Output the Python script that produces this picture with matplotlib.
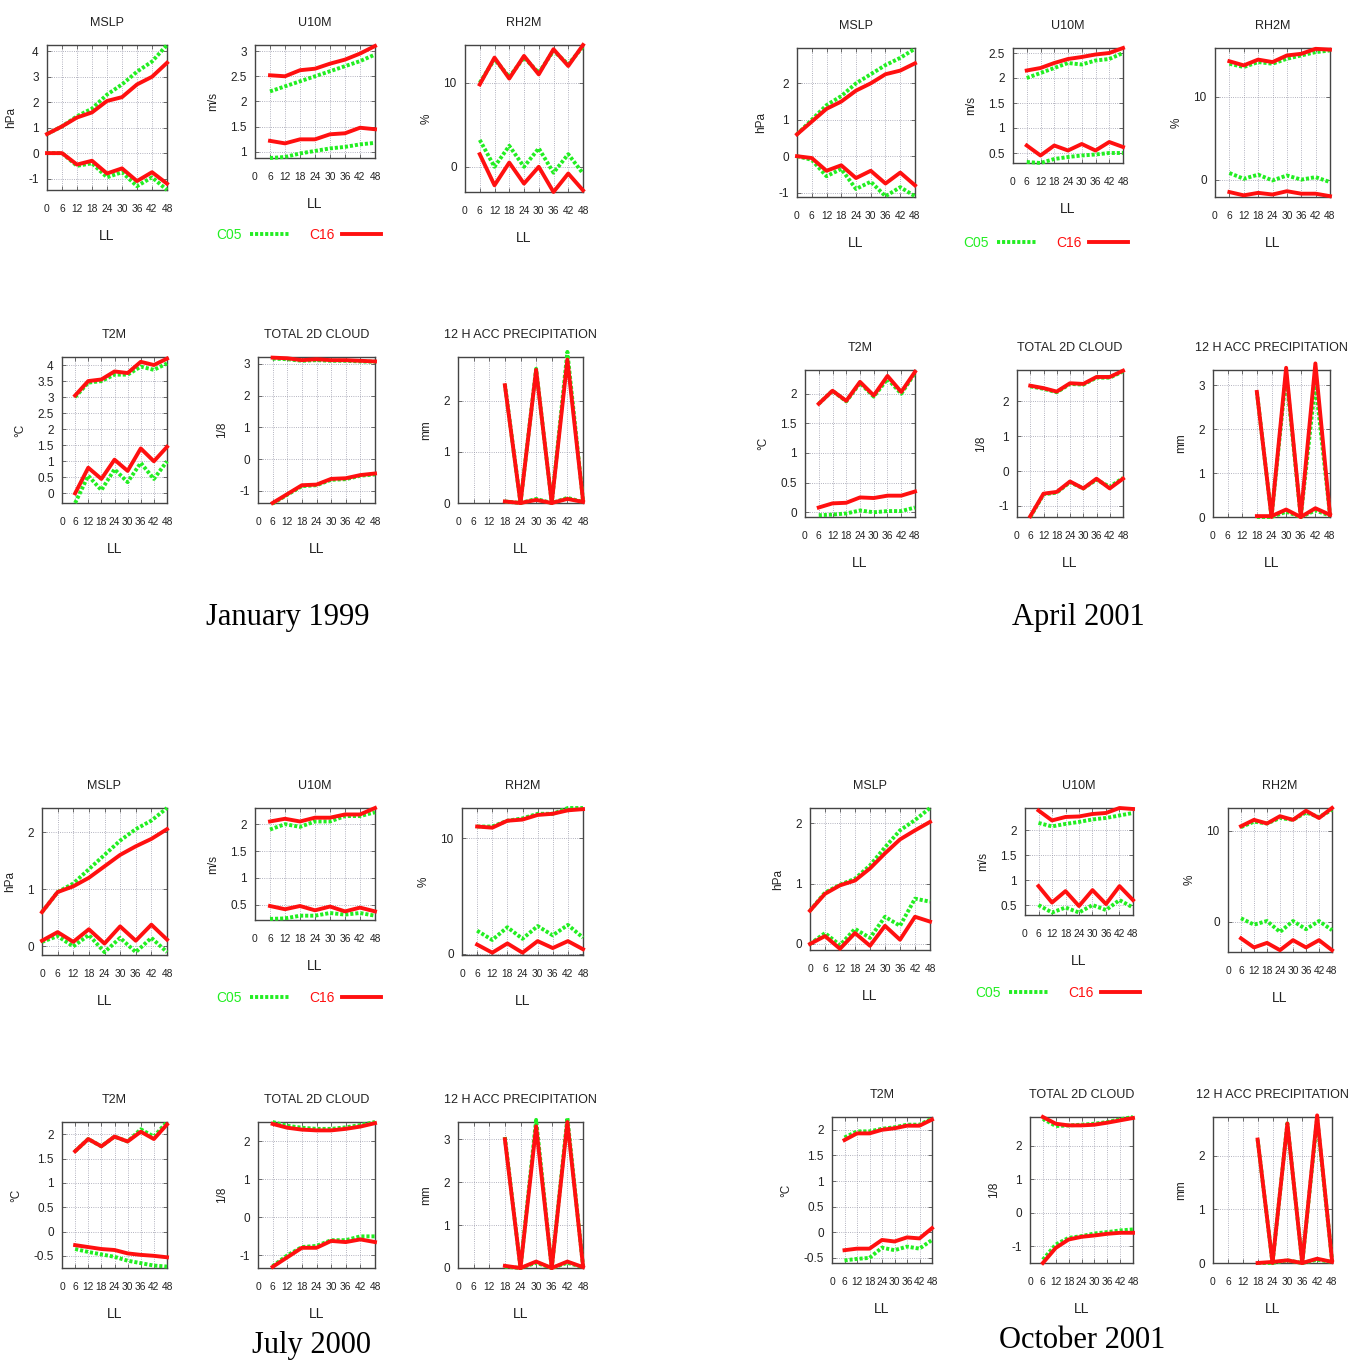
import matplotlib
matplotlib.use('Agg')
import matplotlib.pyplot as plt
from matplotlib.lines import Line2D

W, H = 1357, 1367

# forecast hours
hours_mslp = [0, 6, 12, 18, 24, 30, 36, 42, 48]
hours = [6, 12, 18, 24, 30, 36, 42, 48]
hours_precip = [18, 24, 30, 36, 42, 48]
xticks = [0, 6, 12, 18, 24, 30, 36, 42, 48]

titles = ['MSLP', 'U10M', 'RH2M', 'T2M', 'TOTAL 2D CLOUD', '12 H ACC PRECIPITATION']
units = ['hPa', 'm/s', '%', '\u00b0C', '1/8', 'mm']
months = ['January 1999', 'April 2001', 'July 2000', 'October 2001']

# every panel: (C05 upper, C16 upper, C05 lower, C16 lower)
# ---- January 1999
jan_mslp = ([0.75, 1.05, 1.45, 1.75, 2.3, 2.7, 3.2, 3.6, 4.25],
            [0.75, 1.05, 1.4, 1.6, 2.05, 2.2, 2.7, 3.0, 3.55],
            [0.0, 0.0, -0.5, -0.4, -0.95, -0.75, -1.3, -0.95, -1.45],
            [0.0, 0.0, -0.45, -0.3, -0.8, -0.6, -1.1, -0.75, -1.2])
jan_u10m = ([2.2, 2.3, 2.4, 2.5, 2.6, 2.7, 2.8, 2.93],
            [2.52, 2.5, 2.62, 2.65, 2.75, 2.83, 2.95, 3.1],
            [0.88, 0.9, 0.97, 1.02, 1.07, 1.1, 1.15, 1.18],
            [1.22, 1.17, 1.25, 1.25, 1.35, 1.37, 1.48, 1.45])
jan_rh2m = ([10.0, 12.8, 10.7, 13.0, 11.2, 13.8, 12.2, 14.3],
            [9.8, 13.0, 10.5, 13.2, 11.0, 14.0, 12.0, 14.5],
            [3.2, 0.0, 2.5, 0.0, 2.2, -0.7, 1.5, -0.8],
            [1.5, -2.2, 0.5, -2.0, 0.0, -3.0, -0.8, -2.8])
jan_t2m = ([3.0, 3.45, 3.5, 3.7, 3.7, 3.95, 3.85, 4.05],
           [3.05, 3.5, 3.55, 3.8, 3.75, 4.1, 4.0, 4.2],
           [-0.3, 0.55, 0.1, 0.75, 0.35, 0.95, 0.45, 1.0],
           [0.0, 0.8, 0.45, 1.05, 0.7, 1.4, 1.0, 1.45])
jan_cloud = ([3.17, 3.15, 3.1, 3.12, 3.1, 3.1, 3.08, 3.07],
             [3.2, 3.18, 3.12, 3.15, 3.12, 3.12, 3.1, 3.08],
             [-1.4, -1.12, -0.85, -0.82, -0.65, -0.63, -0.52, -0.48],
             [-1.38, -1.1, -0.82, -0.8, -0.62, -0.6, -0.5, -0.45])
jan_precip = ([2.32, 0.0, 2.62, 0.0, 2.95, 0.05],
              [2.3, 0.0, 2.6, 0.0, 2.8, 0.05],
              [0.03, 0.0, 0.08, 0.0, 0.1, 0.02],
              [0.03, 0.0, 0.06, 0.0, 0.08, 0.02])

# ---- April 2001
apr_mslp = ([0.6, 1.0, 1.4, 1.65, 2.0, 2.25, 2.5, 2.7, 2.95],
            [0.6, 0.95, 1.3, 1.5, 1.8, 2.0, 2.25, 2.35, 2.55],
            [0.0, -0.1, -0.55, -0.35, -0.9, -0.7, -1.1, -0.85, -1.1],
            [0.0, -0.05, -0.4, -0.25, -0.6, -0.4, -0.75, -0.45, -0.8])
apr_u10m = ([2.0, 2.1, 2.2, 2.3, 2.27, 2.35, 2.38, 2.5],
            [2.15, 2.2, 2.3, 2.38, 2.42, 2.47, 2.5, 2.6],
            [0.32, 0.3, 0.38, 0.42, 0.45, 0.47, 0.5, 0.5],
            [0.65, 0.45, 0.65, 0.55, 0.68, 0.55, 0.72, 0.62])
apr_rh2m = ([14.0, 13.6, 14.2, 14.0, 14.6, 15.0, 15.4, 15.6],
            [14.3, 13.8, 14.5, 14.2, 15.0, 15.2, 15.8, 15.7],
            [0.8, 0.1, 0.6, -0.1, 0.5, 0.0, 0.3, -0.3],
            [-1.5, -1.9, -1.6, -1.8, -1.4, -1.7, -1.7, -2.0])
apr_t2m = ([1.83, 2.05, 1.87, 2.18, 1.95, 2.25, 2.0, 2.35],
           [1.83, 2.05, 1.88, 2.2, 1.97, 2.3, 2.03, 2.37],
           [-0.05, -0.04, -0.02, 0.03, 0.0, 0.02, 0.02, 0.08],
           [0.08, 0.15, 0.16, 0.25, 0.24, 0.28, 0.28, 0.35])
apr_cloud = ([2.43, 2.36, 2.26, 2.5, 2.48, 2.68, 2.68, 2.86],
             [2.45, 2.38, 2.28, 2.52, 2.5, 2.7, 2.7, 2.88],
             [-1.32, -0.67, -0.62, -0.32, -0.5, -0.25, -0.45, -0.2],
             [-1.3, -0.65, -0.6, -0.3, -0.5, -0.22, -0.5, -0.22])
apr_precip = ([2.85, 0.0, 3.25, 0.0, 3.05, 0.05],
              [2.85, 0.0, 3.4, 0.0, 3.5, 0.05],
              [0.0, 0.0, 0.12, 0.0, 0.15, 0.03],
              [0.02, 0.02, 0.17, 0.0, 0.2, 0.05])

# ---- July 2000
jul_mslp = ([0.6, 0.95, 1.1, 1.35, 1.6, 1.85, 2.05, 2.2, 2.42],
            [0.6, 0.95, 1.05, 1.2, 1.4, 1.6, 1.75, 1.88, 2.05],
            [0.08, 0.18, 0.0, 0.2, -0.1, 0.15, -0.1, 0.15, -0.1],
            [0.1, 0.25, 0.08, 0.3, 0.05, 0.35, 0.1, 0.38, 0.12])
jul_u10m = ([1.9, 2.0, 1.95, 2.05, 2.05, 2.15, 2.15, 2.22],
            [2.05, 2.1, 2.05, 2.12, 2.12, 2.18, 2.18, 2.3],
            [0.24, 0.25, 0.3, 0.3, 0.35, 0.32, 0.35, 0.3],
            [0.48, 0.42, 0.48, 0.4, 0.47, 0.38, 0.45, 0.38])
jul_rh2m = ([11.0, 11.0, 11.5, 11.7, 12.1, 12.1, 12.6, 12.6],
            [11.0, 10.9, 11.5, 11.6, 12.0, 12.1, 12.4, 12.5],
            [2.0, 1.2, 2.3, 1.3, 2.4, 1.6, 2.5, 1.4],
            [0.8, 0.1, 0.9, 0.1, 1.1, 0.5, 1.1, 0.4])
jul_t2m = ([1.65, 1.9, 1.75, 1.95, 1.85, 2.1, 1.95, 2.25],
           [1.65, 1.9, 1.75, 1.95, 1.85, 2.05, 1.9, 2.2],
           [-0.36, -0.42, -0.47, -0.52, -0.6, -0.65, -0.7, -0.72],
           [-0.28, -0.32, -0.36, -0.38, -0.45, -0.48, -0.5, -0.53])
jul_cloud = ([2.5, 2.4, 2.35, 2.32, 2.32, 2.36, 2.42, 2.5],
             [2.45, 2.35, 2.3, 2.28, 2.28, 2.32, 2.38, 2.47],
             [-1.28, -1.0, -0.78, -0.75, -0.6, -0.6, -0.5, -0.5],
             [-1.3, -1.05, -0.8, -0.8, -0.62, -0.65, -0.58, -0.65])
jul_precip = ([3.05, 0.0, 3.45, 0.0, 3.5, 0.05],
              [3.0, 0.0, 3.3, 0.0, 3.4, 0.05],
              [0.03, 0.0, 0.12, 0.0, 0.12, 0.02],
              [0.05, 0.0, 0.15, 0.0, 0.15, 0.02])

# ---- October 2001
oct_mslp = ([0.55, 0.85, 0.98, 1.08, 1.3, 1.6, 1.88, 2.05, 2.25],
            [0.55, 0.83, 0.97, 1.05, 1.25, 1.5, 1.73, 1.88, 2.02],
            [0.0, 0.18, -0.02, 0.25, 0.1, 0.45, 0.3, 0.75, 0.7],
            [0.0, 0.13, -0.08, 0.18, -0.03, 0.3, 0.07, 0.45, 0.37])
oct_u10m = ([2.15, 2.08, 2.13, 2.17, 2.22, 2.25, 2.3, 2.35],
            [2.4, 2.2, 2.27, 2.28, 2.33, 2.35, 2.45, 2.43],
            [0.5, 0.35, 0.45, 0.35, 0.5, 0.4, 0.6, 0.45],
            [0.88, 0.55, 0.78, 0.48, 0.8, 0.52, 0.88, 0.6])
oct_rh2m = ([10.4, 11.0, 10.8, 11.4, 11.2, 12.0, 11.5, 12.3],
            [10.5, 11.2, 10.8, 11.6, 11.2, 12.2, 11.4, 12.5],
            [0.4, -0.3, 0.1, -1.1, 0.1, -0.8, 0.1, -0.9],
            [-1.8, -2.8, -2.3, -3.1, -2.0, -2.8, -2.0, -3.1])
oct_t2m = ([1.85, 1.97, 1.97, 2.02, 2.05, 2.1, 2.1, 2.22],
           [1.8, 1.93, 1.93, 2.0, 2.03, 2.08, 2.08, 2.2],
           [-0.55, -0.52, -0.5, -0.3, -0.35, -0.28, -0.32, -0.15],
           [-0.35, -0.32, -0.32, -0.15, -0.18, -0.1, -0.12, 0.08])
oct_cloud = ([2.8, 2.58, 2.6, 2.62, 2.65, 2.7, 2.78, 2.85],
             [2.85, 2.65, 2.6, 2.6, 2.62, 2.68, 2.75, 2.82],
             [-1.4, -0.95, -0.75, -0.7, -0.62, -0.58, -0.53, -0.5],
             [-1.5, -1.05, -0.8, -0.72, -0.68, -0.63, -0.6, -0.6])
oct_precip = ([2.3, 0.0, 2.6, 0.0, 2.7, 0.05],
              [2.3, 0.0, 2.6, 0.0, 2.75, 0.05],
              [0.0, 0.0, 0.05, 0.0, 0.06, 0.02],
              [0.0, 0.02, 0.05, 0.0, 0.08, 0.02])

series = [
    [jan_mslp, jan_u10m, jan_rh2m, jan_t2m, jan_cloud, jan_precip],
    [apr_mslp, apr_u10m, apr_rh2m, apr_t2m, apr_cloud, apr_precip],
    [jul_mslp, jul_u10m, jul_rh2m, jul_t2m, jul_cloud, jul_precip],
    [oct_mslp, oct_u10m, oct_rh2m, oct_t2m, oct_cloud, oct_precip],
]

# y ticks of every panel
yticks = [
    [[-1, 0, 1, 2, 3, 4], [1, 1.5, 2, 2.5, 3], [0, 10],
     [0, 0.5, 1, 1.5, 2, 2.5, 3, 3.5, 4], [-1, 0, 1, 2, 3], [0, 1, 2]],
    [[-1, 0, 1, 2], [0.5, 1, 1.5, 2, 2.5], [0, 10],
     [0, 0.5, 1, 1.5, 2], [-1, 0, 1, 2], [0, 1, 2, 3]],
    [[0, 1, 2], [0.5, 1, 1.5, 2], [0, 10],
     [-0.5, 0, 0.5, 1, 1.5, 2], [-1, 0, 1, 2], [0, 1, 2, 3]],
    [[0, 1, 2], [0.5, 1, 1.5, 2], [0, 10],
     [-0.5, 0, 0.5, 1, 1.5, 2], [-1, 0, 1, 2], [0, 1, 2]],
]

# axis ranges (gnuplot autoscale look)
ylims = [
    [(-1.45, 4.25), (0.88, 3.12), (-3.0, 14.5), (-0.3, 4.25), (-1.38, 3.22), (0, 2.85)],
    [(-1.12, 2.97), (0.3, 2.6), (-2.1, 15.9), (-0.08, 2.4), (-1.32, 2.9), (0, 3.35)],
    [(-0.15, 2.42), (0.22, 2.3), (-0.1, 12.6), (-0.75, 2.25), (-1.33, 2.5), (0, 3.4)],
    [(-0.1, 2.25), (0.3, 2.45), (-3.3, 12.5), (-0.6, 2.25), (-1.5, 2.85), (0, 2.72)],
]

# panel boxes in pixels: x0, y0(top), x1, y1(bottom)
boxes = [
    [(47, 45, 167, 190), (255, 45, 375, 158), (465, 45, 583, 192),
     (62, 357, 167, 503), (258, 357, 375, 503), (458, 357, 583, 503)],
    [(797, 48, 915, 197), (1013, 48, 1123, 163), (1215, 48, 1330, 197),
     (805, 370, 915, 517), (1017, 370, 1123, 517), (1213, 370, 1330, 517)],
    [(42, 808, 167, 955), (255, 808, 375, 920), (462, 808, 583, 955),
     (62, 1122, 167, 1268), (258, 1122, 375, 1268), (458, 1122, 583, 1268)],
    [(810, 808, 930, 950), (1025, 808, 1133, 915), (1228, 808, 1332, 952),
     (832, 1117, 932, 1263), (1030, 1117, 1133, 1263), (1213, 1117, 1332, 1263)],
]
legend_pos = [(299, 235), (1046, 243), (299, 998), (1058, 993)]
month_pos = [(288, 617), (1078, 617), (312, 1345), (1082, 1340)]

GREEN = '#22ee22'
RED = '#ff1010'
small = ['Liberation Sans', 'DejaVu Sans']
LW = 2.8
DOTS = (0, (0.8, 0.5))
TXT = '#222222'


def fmt(v):
    return '%g' % v


def draw_panel(ax, x, data, ylim, ticks, title, unit):
    c05_up, c16_up, c05_lo, c16_lo = data
    for y in (c05_up, c05_lo):
        ax.plot(x, y, color=GREEN, lw=LW, ls=DOTS, zorder=3, clip_on=False)
    for y in (c16_up, c16_lo):
        ax.plot(x, y, color=RED, lw=LW, zorder=4, clip_on=False)
    ax.set_xlim(0, 48)
    ax.set_ylim(*ylim)
    ax.set_xticks(xticks)
    ax.set_xticklabels([str(t) for t in xticks], family=small, fontsize=7.4, color=TXT)
    ax.set_yticks(ticks)
    ax.set_yticklabels([fmt(t) for t in ticks], family=small, fontsize=8.5, color=TXT)
    ax.tick_params(direction='in', top=True, right=True, length=3, width=0.6, pad=6,
                   color='#555555')
    ax.tick_params(axis='x', pad=10)
    ax.grid(True, color='#9a9aaa', ls=':', lw=0.6)
    for s in ax.spines.values():
        s.set_linewidth(1.0)
        s.set_color('#444444')
    ax.set_title(title, family=small, fontsize=9, pad=14, color=TXT)
    ax.set_xlabel('LL', family=small, fontsize=10, labelpad=11, color=TXT)
    ax.set_ylabel(unit, family=small, fontsize=8.5, labelpad=8, color=TXT)


fig = plt.figure(figsize=(W / 100, H / 100), dpi=100)

for m in range(4):
    for p in range(6):
        x0, y0, x1, y1 = boxes[m][p]
        ax = fig.add_axes([x0 / W, 1 - y1 / H, (x1 - x0) / W, (y1 - y0) / H])
        if p == 0:
            x = hours_mslp
        elif p == 5:
            x = hours_precip
        else:
            x = hours
        draw_panel(ax, x, series[m][p], ylims[m][p], yticks[m][p], titles[p], units[p])

    handles = [Line2D([], [], color=GREEN, lw=LW, ls=DOTS),
               Line2D([], [], color=RED, lw=LW)]
    lx, ly = legend_pos[m]
    fig.legend(handles, ['C05', 'C16'], loc='center', bbox_to_anchor=(lx / W, 1 - ly / H),
               ncol=2, markerfirst=False, frameon=False, labelcolor='linecolor',
               handlelength=2.8, columnspacing=1.4, handletextpad=0.6,
               prop={'family': small, 'size': 10})

    tx, ty = month_pos[m]
    fig.text(tx / W, 1 - ty / H, months[m], ha='center', va='center',
             family='Liberation Serif', fontsize=22)

fig.savefig('out.png', dpi=100)
